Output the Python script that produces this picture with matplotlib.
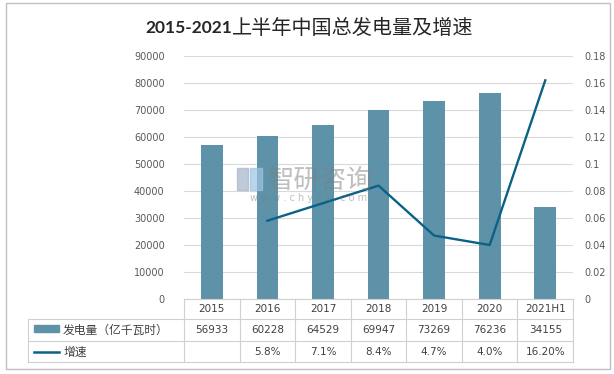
import matplotlib.pyplot as plt
import matplotlib.transforms as mtransforms
from matplotlib.patches import Rectangle
from matplotlib.lines import Line2D

plt.rcParams['font.family'] = ['DejaVu Sans', 'Noto Sans CJK SC']

years = ['2015', '2016', '2017', '2018', '2019', '2020', '2021H1']
output = [56933, 60228, 64529, 69947, 73269, 76236, 34155]
growth = [None, 0.058, 0.071, 0.084, 0.047, 0.040, 0.162]
growth_labels = ['', '5.8%', '7.1%', '8.4%', '4.7%', '4.0%', '16.20%']

bar_color = '#5E92A9'
line_color = '#0B6186'
grid_color = '#D9D9D9'
text_color = '#595959'

fig = plt.figure(figsize=(6.14, 3.74), dpi=100)
ax = fig.add_axes([0.2997, 0.2005, 0.6336, 0.6497])
ax2 = ax.twinx()

x = list(range(len(years)))
ax.bar(x, output, width=0.39, color=bar_color, zorder=2)
ax.set_xlim(-0.5, len(years) - 0.5)
ax.set_ylim(0, 90000)
ax.set_yticks(range(0, 90001, 10000))
ax.yaxis.grid(True, color=grid_color, linewidth=0.8, zorder=0)
ax.set_axisbelow(True)
ax.set_xticks([])
ax.tick_params(axis='y', length=0, labelsize=7, labelcolor=text_color, pad=14)

gx = [i for i, g in zip(x, growth) if g is not None]
gy = [g for g in growth if g is not None]
ax2.plot(gx, gy, color=line_color, linewidth=1.7, zorder=3)
ax2.set_ylim(0, 0.18)
rticks = [i * 0.02 for i in range(10)]
ax2.set_yticks(rticks)
ax2.set_yticklabels(['{:g}'.format(round(t, 2)) for t in rticks])
ax2.tick_params(axis='y', length=0, labelsize=7, labelcolor=text_color, pad=8)

for a in (ax, ax2):
    for s in a.spines.values():
        s.set_visible(False)

# таблица под графиком
trans = mtransforms.blended_transform_factory(ax.transData, ax.transAxes)
rows = [0, -0.0823, -0.1745, -0.2609]
left = -0.5 - 156 / 389 * 7
tc = '#D0D0D0'
ax.add_line(Line2D([-0.5, 6.5], [0, 0], transform=trans, color=tc, lw=0.8, clip_on=False))
for r in rows[1:]:
    ax.add_line(Line2D([left, 6.5], [r, r], transform=trans, color=tc, lw=0.8, clip_on=False))
for xv in [i - 0.5 for i in range(len(years) + 1)]:
    ax.add_line(Line2D([xv, xv], [0, rows[-1]], transform=trans, color=tc, lw=0.8, clip_on=False))
ax.add_line(Line2D([left, left], [rows[1], rows[-1]], transform=trans, color=tc, lw=0.8, clip_on=False))

for i in x:
    ax.text(i, (rows[0] + rows[1]) / 2, years[i], transform=trans, ha='center', va='center',
            fontsize=7.5, color='#404040')
    ax.text(i, (rows[1] + rows[2]) / 2, str(output[i]), transform=trans, ha='center', va='center',
            fontsize=7.5, color='#404040')
    ax.text(i, (rows[2] + rows[3]) / 2, growth_labels[i], transform=trans, ha='center', va='center',
            fontsize=7.5, color='#404040')

# легенда в таблице
sw = left + 0.11
ax.add_patch(Rectangle((sw, -0.1358), 0.44, 0.03, transform=trans, color=bar_color, clip_on=False))
ax.add_line(Line2D([sw, sw + 0.44], [-0.2177, -0.2177], transform=trans, color=line_color, lw=1.8,
                   clip_on=False))
ax.text(sw + 0.52, (rows[1] + rows[2]) / 2, '发电量（亿千瓦时）', transform=trans, ha='left',
        va='center', fontsize=8.5, color='#404040', family=['Noto Sans CJK SC'])
ax.text(sw + 0.52, (rows[2] + rows[3]) / 2, '增速', transform=trans, ha='left',
        va='center', fontsize=8.5, color='#404040', family=['Noto Sans CJK SC'])

# заголовок: цифры жирные, иероглифы обычные
fig.text(0.378, 0.925, '2015-2021', ha='right', va='center', fontsize=12.5,
         fontweight='bold', color='#262626', family=['Lato', 'DejaVu Sans'])
fig.text(0.378, 0.925, '上半年中国总发电量及增速', ha='left', va='center', fontsize=14.5,
         fontweight='medium', color='#262626', family=['Noto Sans CJK SC'])

# водяной знак
fig.text(0.523, 0.519, '智研咨询', ha='center', va='center', fontsize=19, color='#7F7F7F',
         alpha=0.5, family=['Noto Sans CJK SC'], zorder=5)
fig.text(0.502, 0.47, 'w w w . c h y x x . c o m', ha='center', va='center', fontsize=7,
         color='#7F7F7F', alpha=0.5, zorder=5)
fig.patches.append(Rectangle((237 / 614, 1 - 190 / 374), 11 / 614, 22 / 374, transform=fig.transFigure,
                             color='#A7B4C8', alpha=0.7, zorder=5))
fig.patches.append(Rectangle((250 / 614, 1 - 190 / 374), 12 / 614, 22 / 374, transform=fig.transFigure,
                             color='#9CC4E4', alpha=0.7, zorder=5))

fig.patches.append(Rectangle((0.009, 0.013), 0.985, 0.978, transform=fig.transFigure,
                             fill=False, edgecolor='#BFBFBF', linewidth=1))

fig.savefig('out.png', dpi=100)
